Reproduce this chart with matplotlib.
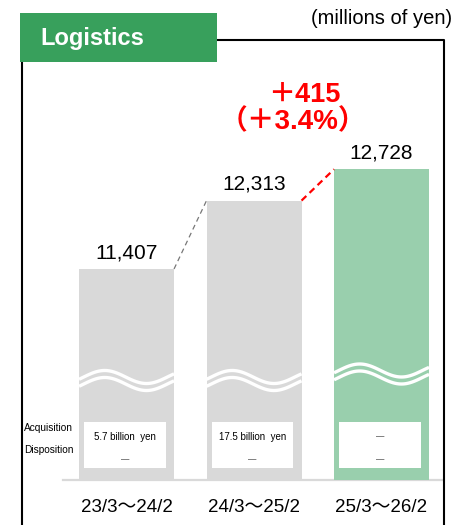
import numpy as np
import matplotlib
matplotlib.use("Agg")
import matplotlib.pyplot as plt
from matplotlib.patches import Rectangle
from matplotlib.lines import Line2D
import matplotlib.transforms as mtransforms

# data
periods = ["23/3～24/2", "24/3～25/2", "25/3～26/2"]
revenue = [11407, 12313, 12728]
acquisition = ["5.7 billion  yen", "17.5 billion  yen", "—"]
disposition = ["—", "—", "—"]
change_abs = "＋415"
change_pct = "（＋3.4%）"

FONT = ["Liberation Sans", "Noto Sans CJK JP"]
plt.rcParams["font.family"] = FONT

GRAY = "#d9d9d9"
LIGHT_GREEN = "#99cfad"
DARK_GREEN = "#38a05c"

W, H = 453, 525
fig = plt.figure(figsize=(W / 100, H / 100), dpi=100)


def fx(px):
    return px / W


def fy(py):
    return 1 - py / H


# plot area: x 22..444 px, y 40..480 px
ax = fig.add_axes([fx(22), fy(480), fx(444) - fx(22), fy(40) - fy(480)])
ax.set_xlim(-0.82, 2.49)
ax.set_ylim(8612, 14440)
for s in ax.spines.values():
    s.set_visible(False)
ax.set_yticks([])
x = np.arange(len(periods))
ax.set_xticks(x, periods, fontsize=13.5)
ax.tick_params(length=0, pad=14)

bw = 0.745
colors = [GRAY, GRAY, LIGHT_GREEN]
ax.bar(x, revenue, width=bw, color=colors, zorder=2)

# value labels
for i, v in enumerate(revenue):
    ax.annotate(f"{v:,}", (i, v), xytext=(0, 5), textcoords="offset points",
                ha="center", va="bottom", fontsize=15)

# connectors
ax.plot([0 + bw / 2, 1 - bw / 2], [revenue[0], revenue[1]], ls=(0, (4, 3)),
        color="#777777", lw=0.9, zorder=3)
ax.plot([1 + bw / 2, 2 - bw / 2], [revenue[1], revenue[2]], ls=(0, (3, 2)),
        color="red", lw=1.6, zorder=3)

# baseline
ax.axhline(8612, xmin=(63 - 22) / 422, xmax=(443 - 22) / 422, color=GRAY,
           lw=1.6, clip_on=False, zorder=1)

# wave break marks
blend = mtransforms.blended_transform_factory(ax.transData, ax.transAxes)
t = np.linspace(0, 1, 100)
for i in range(len(revenue)):
    c = 375.5 if i < 2 else 369.0
    ypx = c - 6.5 * np.cos(2 * np.pi * (t - 0.27) / 0.88)
    xs = i - bw / 2 + t * bw
    for off in (0, 7):
        ax.plot(xs, (480 - (ypx + 1.5 + off)) / 440, color="white", lw=2.4,
                transform=blend, zorder=4, solid_capstyle="butt")

# acquisition / disposition boxes
for i in range(len(revenue)):
    ax.add_patch(Rectangle((i - 0.012 - 0.64 / 2, (480 - 468) / 440), 0.64,
                           46 / 440, transform=blend, facecolor="white",
                           edgecolor="none", zorder=4))
    ax.text(i - 0.012, (480 - 437) / 440, acquisition[i], transform=blend,
            ha="center", va="center", fontsize=7 if i < 2 else 6, zorder=5)
    ax.text(i - 0.012, (480 - 460) / 440, disposition[i], transform=blend,
            ha="center", va="center", fontsize=6, zorder=5)

fig.text(fx(24), fy(428), "Acquisition", ha="left", va="center", fontsize=7.3)
fig.text(fx(24), fy(450), "Disposition", ha="left", va="center", fontsize=7.3)

# frame
fig.add_artist(Line2D([fx(21.5), fx(21.5), fx(444), fx(444)],
                      [fy(530), fy(40), fy(40), fy(530)],
                      color="black", lw=1.5, transform=fig.transFigure))

# header
fig.add_artist(Rectangle((fx(20), fy(62)), fx(217) - fx(20), fy(13) - fy(62),
                         facecolor=DARK_GREEN, edgecolor="none",
                         transform=fig.transFigure, zorder=5))
fig.text(fx(40), fy(38), "Logistics", color="white", fontweight="bold",
         fontsize=17, ha="left", va="center", zorder=6)
fig.text(fx(452), fy(18), "(millions of yen)", ha="right", va="center",
         fontsize=14.5)

# change annotation
fig.text(fx(304), fy(95), change_abs, color="red", fontweight="bold",
         fontsize=19.5, ha="center", va="center")
fig.text(fx(293), fy(122), change_pct, color="red", fontweight="bold",
         fontsize=20, ha="center", va="center")

fig.savefig("out.png", dpi=100)
